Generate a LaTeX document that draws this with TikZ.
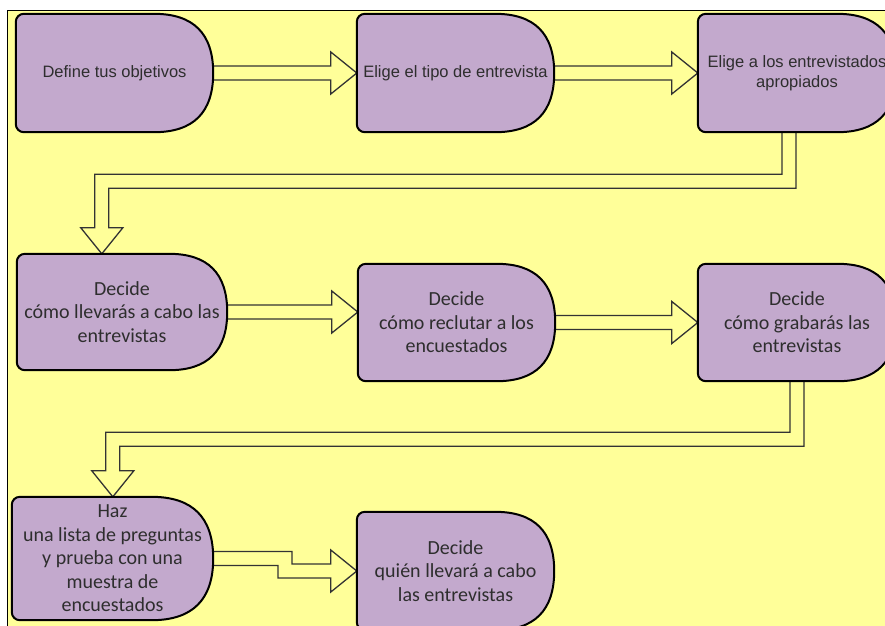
\documentclass[tikz,border=0pt]{standalone}
\usepackage{fontspec}
\setmainfont{Liberation Sans}
\newfontfamily\calib{Carlito}
\usetikzlibrary{calc}
\definecolor{bgyellow}{HTML}{FFFF99}
\definecolor{boxfill}{HTML}{C3A9CD}
\definecolor{txt}{HTML}{2E2E2E}
\definecolor{arrline}{HTML}{333333}
\pgfdeclarelayer{bglayer}
\pgfdeclarelayer{arrlayer}
\pgfdeclarelayer{shapelayer}
\pgfsetlayers{bglayer,arrlayer,shapelayer,main}
\tikzset{
  boxtext/.style={inner sep=0pt, align=center, text=txt},
  arialtext/.style={boxtext, font=\fontsize{16.5}{20}\selectfont},
  calibtext/.style={boxtext, font=\calib\fontsize{20}{23.5}\selectfont},
  boxline/.style={draw=black, line width=2pt, fill=boxfill},
  blockarrow/.style={draw=arrline, line width=1.3pt, fill=bgyellow, line join=miter},
}
\newcommand\delayshape[1]{%
  \draw[boxline] let \p1=(#1.north west), \p2=(#1.south east), \n1={0.5*(\y1-\y2)} in
    (\x2-\n1,\y2) -- (\x1+8,\y2) arc[start angle=270, end angle=180, radius=8pt]
    -- (\x1,\y1-8) arc[start angle=180, end angle=90, radius=8pt]
    -- (\x2-\n1,\y1)
    .. controls (\x2-\n1/3,\y1) and (\x2,{0.5*\y1+0.5*\y2+2*\n1/3}) .. (\x2,{0.5*\y1+0.5*\y2})
    .. controls (\x2,{0.5*\y1+0.5*\y2-2*\n1/3}) and (\x2-\n1/3,\y2) .. (\x2-\n1,\y2) -- cycle;
}
\begin{document}
\begin{tikzpicture}[x=1pt,y=-1pt]
\useasboundingbox (0,0) rectangle (885,625);
\begin{pgfonlayer}{bglayer}
  \fill[white] (0,0) rectangle (885,625);
  \draw[fill=bgyellow, line width=1.5pt] (7.5,10.5) rectangle (900,640);
\end{pgfonlayer}

% boxes (text)
\node[arialtext, minimum width=197pt, minimum height=118pt] (b1) at (114.5,73) {Define tus objetivos};
\node[arialtext, minimum width=197pt, minimum height=118pt] (b2) at (455.5,73) {Elige el tipo de entrevista};
\node[arialtext, minimum width=198pt, minimum height=118pt] (b3) at (797,73) {Elige a los entrevistados\\apropiados};
\node[calibtext, minimum width=210pt, minimum height=116pt] (b4) at (122,312) {Decide\\cómo llevarás a cabo las\\entrevistas};
\node[calibtext, minimum width=197pt, minimum height=117pt] (b5) at (456.5,322.5) {Decide\\cómo reclutar a los\\encuestados};
\node[calibtext, minimum width=198pt, minimum height=117pt] (b6) at (797,322.5) {Decide\\cómo grabarás las\\entrevistas};
\node[calibtext, minimum width=201pt, minimum height=123pt] (b7) at (112.5,558.5) {Haz\\una lista de preguntas\\y prueba con una\\muestra de\\encuestados};
\node[calibtext, minimum width=197pt, minimum height=118pt] (b8) at (455.5,571) {Decide\\quién llevará a cabo\\las entrevistas};

\begin{pgfonlayer}{shapelayer}
  \delayshape{b1}\delayshape{b2}\delayshape{b3}\delayshape{b4}
  \delayshape{b5}\delayshape{b6}\delayshape{b7}\delayshape{b8}
\end{pgfonlayer}

% helper coordinates
\coordinate (t5) at (b4.east -| b5.west);
\coordinate (s3) at ($(b3.south)+(-8,0)$);
\coordinate (k3) at ($(s3)+(0,49)$);
\coordinate (e4) at ($(b4.north west)+(85,0)$);
\coordinate (c3) at (e4 |- k3);
\coordinate (s6) at (b6.south);
\coordinate (k6) at ($(s6)+(0,58)$);
\coordinate (e7) at ($(b7.north west)+(101,0)$);
\coordinate (c6) at (e7 |- k6);
\coordinate (m7) at ($(b7.east)!0.5!(b8.west)$);
\coordinate (m7a) at (m7 |- b7.east);
\coordinate (m7b) at (m7 |- b8.west);

\begin{pgfonlayer}{arrlayer}
  % b1 -> b2
  \draw[blockarrow] ($(b1.east)+(-2,-7)$) -- ($(b2.west)+(-26,-7)$) -- ($(b2.west)+(-26,-21)$)
    -- (b2.west) -- ($(b2.west)+(-26,21)$) -- ($(b2.west)+(-26,7)$) -- ($(b1.east)+(-2,7)$);
  % b2 -> b3
  \draw[blockarrow] ($(b2.east)+(-2,-7)$) -- ($(b3.west)+(-26,-7)$) -- ($(b3.west)+(-26,-21)$)
    -- (b3.west) -- ($(b3.west)+(-26,21)$) -- ($(b3.west)+(-26,7)$) -- ($(b2.east)+(-2,7)$);
  % b3 -> b4
  \draw[blockarrow] ($(s3)+(7,-2)$) -- ($(k3)+(7,7)$) -- ($(c3)+(7,7)$) -- ($(e4)+(7,-26)$)
    -- ($(e4)+(21,-26)$) -- (e4) -- ($(e4)+(-21,-26)$) -- ($(e4)+(-7,-26)$)
    -- ($(c3)+(-7,-7)$) -- ($(k3)+(-7,-7)$) -- ($(s3)+(-7,-2)$);
  % b4 -> b5
  \draw[blockarrow] ($(b4.east)+(-2,-7)$) -- ($(t5)+(-26,-7)$) -- ($(t5)+(-26,-21)$)
    -- (t5) -- ($(t5)+(-26,21)$) -- ($(t5)+(-26,7)$) -- ($(b4.east)+(-2,7)$);
  % b5 -> b6
  \draw[blockarrow] ($(b5.east)+(-2,-7)$) -- ($(b6.west)+(-26,-7)$) -- ($(b6.west)+(-26,-21)$)
    -- (b6.west) -- ($(b6.west)+(-26,21)$) -- ($(b6.west)+(-26,7)$) -- ($(b5.east)+(-2,7)$);
  % b6 -> b7
  \draw[blockarrow] ($(s6)+(7,-2)$) -- ($(k6)+(7,7)$) -- ($(c6)+(7,7)$) -- ($(e7)+(7,-26)$)
    -- ($(e7)+(21,-26)$) -- (e7) -- ($(e7)+(-21,-26)$) -- ($(e7)+(-7,-26)$)
    -- ($(c6)+(-7,-7)$) -- ($(k6)+(-7,-7)$) -- ($(s6)+(-7,-2)$);
  % b7 -> b8
  \draw[blockarrow] ($(b7.east)+(-2,-7)$) -- ($(m7a)+(7,-7)$) -- ($(m7b)+(7,-7)$)
    -- ($(b8.west)+(-26,-7)$) -- ($(b8.west)+(-26,-21)$) -- (b8.west)
    -- ($(b8.west)+(-26,21)$) -- ($(b8.west)+(-26,7)$) -- ($(m7b)+(-7,7)$)
    -- ($(m7a)+(-7,7)$) -- ($(b7.east)+(-2,7)$);
\end{pgfonlayer}
\end{tikzpicture}
\end{document}
